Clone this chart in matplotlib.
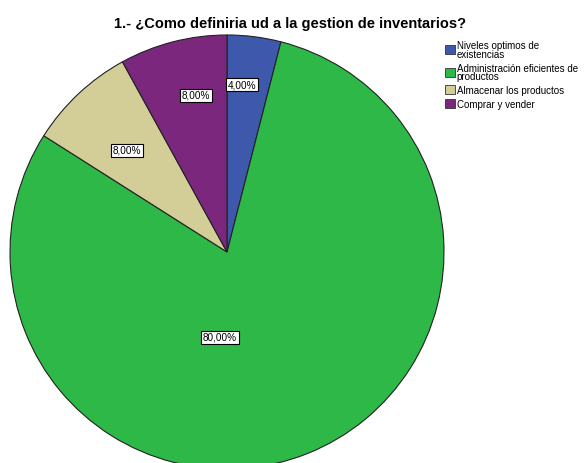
import matplotlib
matplotlib.use("Agg")
import matplotlib.pyplot as plt
from matplotlib.patches import Patch

categories = ["Niveles optimos de\nexistencias", "Administración eficientes de\nproductos",
              "Almacenar los productos", "Comprar y vender"]
values = [4.0, 80.0, 8.0, 8.0]
labels = ["4,00%", "80,00%", "8,00%", "8,00%"]
colors = ["#3E58AC", "#2EB848", "#D3CE97", "#7B277D"]
title = "1.- ¿Como definiria ud a la gestion de inventarios?"

plt.rcParams['font.family'] = ['Liberation Sans', 'DejaVu Sans']

W, H = 584, 464
fig = plt.figure(figsize=(W/100, H/100), dpi=100)
fig.patch.set_facecolor("white")
ax = fig.add_axes([0, 0, 1, 1])

cx, cy, r = 227, 253, 217
wedges, _ = ax.pie(values, colors=colors, startangle=-90, counterclock=True,
                   center=(cx, cy), radius=r,
                   wedgeprops=dict(edgecolor="#222222", linewidth=0.8), frame=True)
ax.set_xlim(0, W)
ax.set_ylim(H, 0)
ax.set_aspect("equal")
ax.axis("off")

# label positions (pixels)
label_pos = [(242, 85), (220, 338), (127, 151), (196, 96)]
for (x, y), t in zip(label_pos, labels):
    ax.text(x, y, t, ha="center", va="center", fontsize=7.2,
            bbox=dict(boxstyle="square,pad=0.15", facecolor="white", edgecolor="black", linewidth=0.8))

fig.text(290/W, 1 - 24/H, title, ha="center", va="center", fontsize=10.5, fontweight="bold")

handles = [Patch(facecolor=c, edgecolor="#333333", linewidth=0.6) for c in colors]
leg = fig.legend(handles, categories, loc="upper left", bbox_to_anchor=(440/W, 1 - 36/H),
                 fontsize=7, frameon=False, handlelength=1.05, handleheight=1.05,
                 handletextpad=0.15, labelspacing=0.4, borderpad=0)
for t in leg.get_texts():
    t.set_linespacing(0.85)

fig.savefig("out.png", dpi=100)
